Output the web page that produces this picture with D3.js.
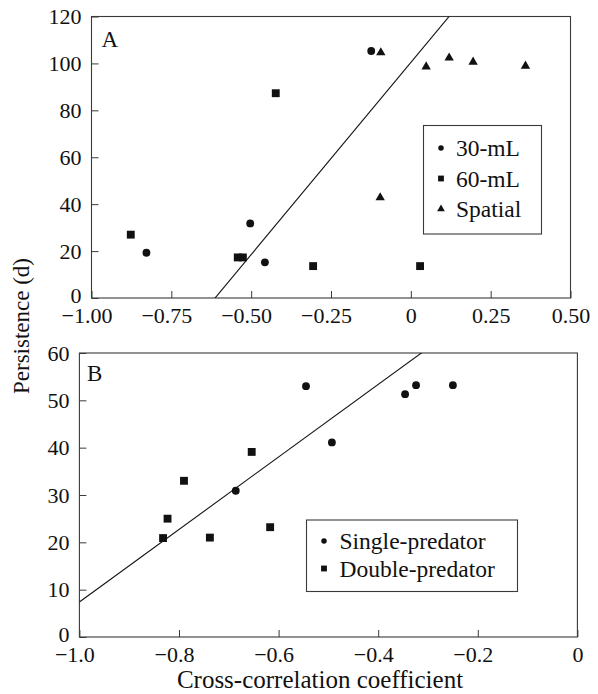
<!DOCTYPE html>
<html>
<head>
<meta charset="utf-8">
<script src="https://cdn.jsdelivr.net/npm/d3@7"></script>
<style>
  html, body { margin: 0; padding: 0; background: #fff; }
  svg { display: block; }
  text { font-family: "Liberation Serif", "Times New Roman", serif; fill: #111; }
</style>
</head>
<body>
<svg id="chart" width="598" height="694"></svg>
<script>
// ---------- Panel A data ----------
const a30mL_x = [-0.828, -0.503, -0.457, -0.124];
const a30mL_y = [19.3, 31.8, 15.2, 105.3];
const a60mL_x = [-0.877, -0.423, -0.542, -0.526, -0.306, 0.029];
const a60mL_y = [27.0, 87.3, 17.3, 17.3, 13.6, 13.6];
const aSpatial_x = [-0.094, 0.048, 0.120, 0.195, 0.359, -0.096];
const aSpatial_y = [104.6, 98.6, 102.4, 100.6, 98.9, 42.8];
const aLineIntercept = 100.4, aLineSlope = 163.8;
const aXTicks = [-1, -0.75, -0.5, -0.25, 0, 0.25, 0.5];
const aXTickLabels = ["\u22121.00", "\u22120.75", "\u22120.50", "\u22120.25", "0", "0.25", "0.50"];
const aYTicks = [0, 20, 40, 60, 80, 100, 120];
const aLegend = ["30-mL", "60-mL", "Spatial"];

// ---------- Panel B data ----------
const bSingle_x = [-0.686, -0.545, -0.493, -0.346, -0.324, -0.250];
const bSingle_y = [30.9, 53.0, 41.1, 51.3, 53.2, 53.2];
const bDouble_x = [-0.832, -0.823, -0.790, -0.738, -0.654, -0.617];
const bDouble_y = [20.9, 25.0, 33.0, 21.0, 39.1, 23.2];
const bLineIntercept = 84.0, bLineSlope = 76.6;
const bXTicks = [-1, -0.8, -0.6, -0.4, -0.2, 0];
const bXTickLabels = ["\u22121.0", "\u22120.8", "\u22120.6", "\u22120.4", "\u22120.2", "0"];
const bYTicks = [0, 10, 20, 30, 40, 50, 60];
const bLegend = ["Single-predator", "Double-predator"];

const yTitle = "Persistence (d)";
const xTitle = "Cross-correlation coefficient";

const svg = d3.select("#chart");
const FRAME = "#3a3a3a";
const TICKFONT = 22;

function zip(xs, ys) { return xs.map((x, i) => ({x, y: ys[i]})); }

function drawPanel(cfg) {
  const g = svg.append("g");
  const x = d3.scaleLinear().domain(cfg.xDomain).range([cfg.left, cfg.right]);
  const y = d3.scaleLinear().domain(cfg.yDomain).range([cfg.bottom, cfg.top]);

  const clipId = "clip" + cfg.name;
  svg.append("clipPath").attr("id", clipId).append("rect")
    .attr("x", cfg.left).attr("y", cfg.top)
    .attr("width", cfg.right - cfg.left).attr("height", cfg.bottom - cfg.top);

  // y axis (ticks inward)
  const yAxis = d3.axisLeft(y).tickValues(cfg.yTicks).tickSizeInner(-7).tickSizeOuter(0).tickPadding(10)
    .tickFormat(d3.format("d"));
  const ya = g.append("g").attr("transform", `translate(${cfg.left},0)`).call(yAxis);
  ya.select(".domain").remove();
  ya.selectAll("line").attr("stroke", FRAME);
  ya.selectAll("text").attr("font-size", TICKFONT).attr("dy", (d) => d === 0 ? "0.2em" : "0.33em")
    .style("font-family", "Liberation Serif").attr("fill", "#111");

  // x axis
  const xAxis = d3.axisBottom(x).tickValues(cfg.xTicks).tickSizeInner(-7).tickSizeOuter(0).tickPadding(9)
    .tickFormat((d, i) => cfg.xTickLabels[i]);
  const xa = g.append("g").attr("transform", `translate(0,${cfg.bottom})`).call(xAxis);
  xa.select(".domain").remove();
  xa.selectAll("line").attr("stroke", FRAME);
  xa.selectAll("text").attr("font-size", TICKFONT)
    .style("font-family", "Liberation Serif").attr("fill", "#111")
    .attr("dx", (d) => d < 0 ? -5 : 0);

  // frame
  g.append("rect").attr("x", cfg.left).attr("y", cfg.top)
    .attr("width", cfg.right - cfg.left).attr("height", cfg.bottom - cfg.top)
    .attr("fill", "none").attr("stroke", FRAME).attr("stroke-width", 1.1);

  // regression line
  const x0 = cfg.xDomain[0], x1 = cfg.xDomain[1];
  g.append("line")
    .attr("clip-path", `url(#${clipId})`)
    .attr("x1", x(x0)).attr("y1", y(cfg.intercept + cfg.slope * x0))
    .attr("x2", x(x1)).attr("y2", y(cfg.intercept + cfg.slope * x1))
    .attr("stroke", "#111").attr("stroke-width", 1.1);

  // points
  cfg.series.forEach(s => {
    g.append("g").selectAll("path").data(zip(s.xs, s.ys)).join("path")
      .attr("transform", d => `translate(${x(d.x)},${y(d.y)})`)
      .attr("d", d3.symbol().type(s.type).size(s.size))
      .attr("fill", "#111");
  });

  // panel letter
  g.append("text").attr("x", cfg.letterX).attr("y", cfg.letterY)
    .attr("font-size", 23).text(cfg.name);

  // legend
  const L = cfg.legend;
  g.append("rect").attr("x", L.x).attr("y", L.y).attr("width", L.w).attr("height", L.h)
    .attr("fill", "#fff").attr("stroke", FRAME).attr("stroke-width", 1.1);
  cfg.series.forEach((s, i) => {
    const cy = L.firstY + i * L.step;
    g.append("path").attr("transform", `translate(${L.markerX},${cy})`)
      .attr("d", d3.symbol().type(s.type).size(s.legendSize)).attr("fill", "#111");
    g.append("text").attr("x", L.textX).attr("y", cy + 8)
      .attr("font-size", 23.5).text(s.label);
  });
  return {x, y};
}

drawPanel({
  name: "A",
  xDomain: [-1, 0.5], yDomain: [0, 120],
  left: 91.5, right: 570.5, top: 16.5, bottom: 298,
  xTicks: aXTicks, xTickLabels: aXTickLabels, yTicks: aYTicks,
  intercept: aLineIntercept, slope: aLineSlope,
  letterX: 101.5, letterY: 47,
  series: [
    {label: aLegend[0], xs: a30mL_x, ys: a30mL_y, type: d3.symbolCircle, size: 48, legendSize: 24},
    {label: aLegend[1], xs: a60mL_x, ys: a60mL_y, type: d3.symbolSquare, size: 62, legendSize: 34},
    {label: aLegend[2], xs: aSpatial_x, ys: aSpatial_y, type: d3.symbolTriangle, size: 38, legendSize: 26}
  ],
  legend: {x: 423.5, y: 125.5, w: 118, h: 108.5, markerX: 441, firstY: 148, step: 30.5, textX: 456}
});

drawPanel({
  name: "B",
  xDomain: [-1, 0], yDomain: [0, 60],
  left: 79.4, right: 577.4, top: 353, bottom: 637,
  xTicks: bXTicks, xTickLabels: bXTickLabels, yTicks: bYTicks,
  intercept: bLineIntercept, slope: bLineSlope,
  letterX: 87, letterY: 381,
  series: [
    {label: bLegend[0], xs: bSingle_x, ys: bSingle_y, type: d3.symbolCircle, size: 48, legendSize: 24},
    {label: bLegend[1], xs: bDouble_x, ys: bDouble_y, type: d3.symbolSquare, size: 62, legendSize: 34}
  ],
  legend: {x: 306.5, y: 520, w: 211, h: 71.5, markerX: 324, firstY: 541, step: 27.5, textX: 339.5}
});

// axis titles
svg.append("text")
  .attr("transform", "translate(29,326) rotate(-90)")
  .attr("text-anchor", "middle").attr("font-size", 23).text(yTitle);
svg.append("text")
  .attr("x", 320).attr("y", 687.5)
  .attr("text-anchor", "middle").attr("font-size", 25).text(xTitle);
</script>
</body>
</html>
